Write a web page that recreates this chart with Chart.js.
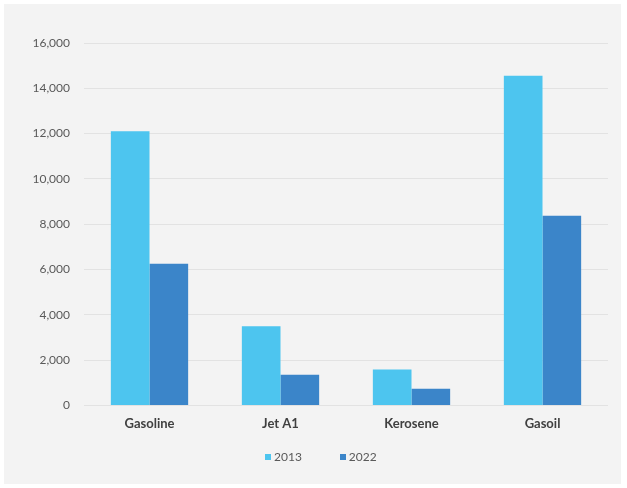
<!DOCTYPE html>
<html>
<head>
<meta charset="utf-8">
<script src="https://cdn.jsdelivr.net/npm/chart.js@4"></script>
<style>
  body { margin: 0; background: #ffffff; }
  #marco {
    position: absolute; left: 4px; top: 4px;
    width: 617px; height: 480px;
    background: #f3f3f3;
  }
  #leyenda {
    position: absolute; top: 445px; left: 261px;
    display: flex; gap: 38px;
    font: 12px Lato, "Open Sans", sans-serif; color: #595959;
  }
  #leyenda span { display: flex; align-items: center; }
  #leyenda i { display: inline-block; width: 6px; height: 6px; margin-right: 3px; }
</style>
</head>
<body>
<div id="marco">
  <canvas id="grafico"></canvas>
  <div id="leyenda"></div>
</div>
<script>
// Datos del gráfico
const productos = ['Gasoline', 'Jet A1', 'Kerosene', 'Gasoil'];
const anios = ['2013', '2022'];
const consumo2013 = [12100, 3500, 1580, 14550];
const consumo2022 = [6250, 1350, 740, 8370];
const colores = ['#4dc5ef', '#3b85c9'];

const fuente = 'Lato, "Open Sans", sans-serif';

const ctx = document.getElementById('grafico').getContext('2d');
ctx.canvas.width = 617;
ctx.canvas.height = 480;

new Chart(ctx, {
    type: 'bar',
    data: {
        labels: productos,
        datasets: [
            { label: anios[0], data: consumo2013, backgroundColor: colores[0] },
            { label: anios[1], data: consumo2022, backgroundColor: colores[1] }
        ]
    },
    options: {
        responsive: false,
        animation: false,
        layout: { padding: { top: 39, right: 13, left: 0, bottom: 41 } },
        datasets: { bar: { categoryPercentage: 0.59, barPercentage: 1 } },
        scales: {
            x: {
                grid: { display: false, drawTicks: false },
                border: { display: false },
                ticks: {
                    color: '#404040',
                    padding: 11,
                    font: { family: fuente, size: 13, weight: 'bold' }
                }
            },
            y: {
                min: 0,
                max: 16000,
                afterFit: (escala) => { escala.width = 80; },
                grid: { color: '#e2e2e2', drawTicks: false },
                border: { display: false },
                ticks: {
                    stepSize: 2000,
                    color: '#595959',
                    padding: 14,
                    font: { family: fuente, size: 12 },
                    callback: (v) => v.toLocaleString('en-US')
                }
            }
        },
        plugins: {
            legend: { display: false },
            tooltip: { enabled: false }
        }
    }
});

// Leyenda debajo del gráfico
const leyenda = document.getElementById('leyenda');
anios.forEach((anio, i) => {
    const item = document.createElement('span');
    item.innerHTML = `<i style="background:${colores[i]}"></i>${anio}`;
    leyenda.appendChild(item);
});
</script>
</body>
</html>
